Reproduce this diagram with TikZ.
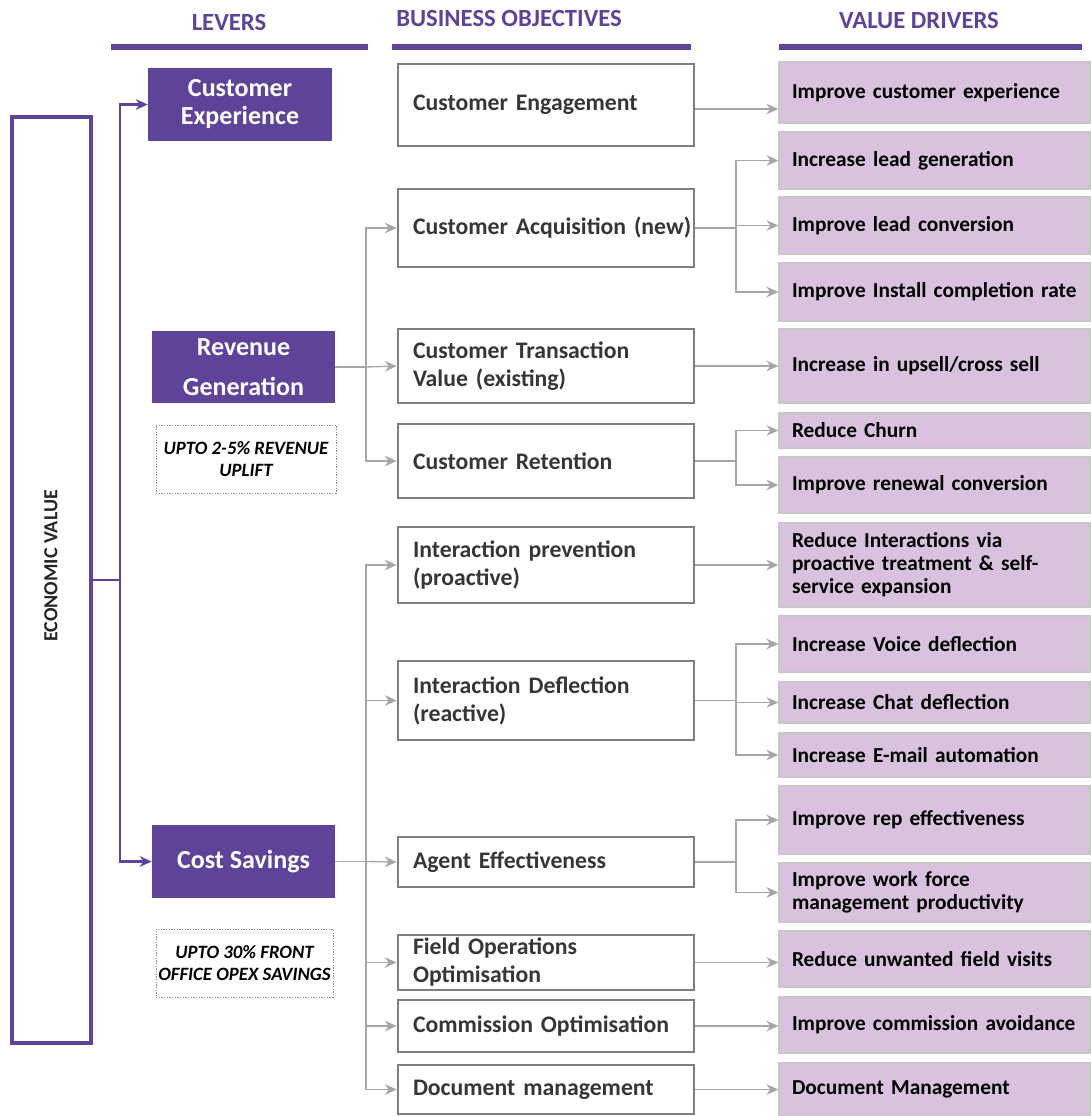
\documentclass[tikz,border=0pt]{standalone}
\usepackage{fontspec}
\setmainfont{Carlito}
\usetikzlibrary{arrows.meta}
\definecolor{purp}{HTML}{5E4399}
\definecolor{lilac}{HTML}{D9C2DE}
\definecolor{objgray}{HTML}{7F7F7F}
\definecolor{linegray}{HTML}{A6A6A6}
\definecolor{objtext}{HTML}{363636}
\tikzset{
 lever/.style={fill=purp, text=white, font=\fontsize{19.5}{21}\selectfont\bfseries, align=center, inner sep=0pt},
 objbox/.style={draw=objgray, line width=1.9pt, fill=white, text=objtext, font=\fontsize{17.8}{21}\selectfont\bfseries, align=left, inner ysep=0pt, inner xsep=11.25pt, text width=199.5pt},
 drvbox/.style={draw=black!22, line width=1pt, fill=lilac, text=black, font=\fontsize{16}{17.3}\selectfont\bfseries, align=left, inner ysep=0pt, inner xsep=9.75pt, text width=213.75pt},
 notebox/.style={draw=black!45, dash pattern=on 1pt off 1pt, line width=0.6pt, font=\fontsize{14.1}{16.5}\selectfont\bfseries\itshape, align=center, inner sep=0pt},
 hdr/.style={text=purp, font=\fontsize{18.5}{20}\selectfont\bfseries, inner sep=0pt},
 econbox/.style={draw=purp, line width=2.6pt, inner sep=0pt},
 econtext/.style={rotate=90, font=\fontsize{15}{16}\selectfont\bfseries, text=black!85, inner sep=0pt},
 ptrunk/.style={draw=purp, line width=1.6pt},
 parrow/.style={ptrunk, -{Stealth[length=9pt,width=8pt,inset=3pt]}},
 gline/.style={draw=linegray, line width=1pt},
 garrow/.style={gline, -{Stealth[length=9pt,width=8pt,inset=3pt]}},
}
\newcommand\boxat[7]{\node[#1, minimum width={(#5-#3)*0.75pt}, minimum height={(#6-#4)*0.75pt}] (#2) at ({(#3+#5)/2},{(#4+#6)/2}) {#7};}
\begin{document}
\begin{tikzpicture}[x=0.75pt,y=-0.75pt]
\useasboundingbox (0,0) rectangle (1090,1116);
% headers
\node[hdr] (hL) at (229,23) {LEVERS};
\node[hdr] (hB) at (509,19) {BUSINESS OBJECTIVES};
\node[hdr] (hV) at (919,21) {VALUE DRIVERS};
\fill[purp] (111,44) rectangle (368,50);
\fill[purp] (392,44) rectangle (691,50);
\fill[purp] (779,44) rectangle (1082,50);
% economic value
\boxat{econbox}{econ}{12}{117}{91}{1043}{}
\node[econtext] (econt) at (51,566) {ECONOMIC VALUE};
% levers
\boxat{lever}{cx}{148}{68}{332}{141}{Customer\\Experience}
\boxat{lever}{rg}{152}{331}{335}{403}{Revenue\\[9pt]Generation}
\boxat{lever}{cs}{152}{825}{335}{898}{Cost Savings}
\boxat{notebox}{n1}{156}{425}{336}{493}{UPTO 2-5\% REVENUE\\UPLIFT}
\boxat{notebox}{n2}{156}{929}{333}{997}{UPTO 30\% FRONT\\OFFICE OPEX SAVINGS}
% objectives
\boxat{objbox}{ce}{398}{64}{694}{146}{Customer Engagement}
\boxat{objbox}{ca}{398}{189}{694}{267}{\mbox{Customer Acquisition (new)}}
\boxat{objbox}{ct}{398}{329}{694}{403}{Customer Transaction\\Value (existing)}
\boxat{objbox}{cr}{398}{424}{694}{498}{Customer Retention}
\boxat{objbox}{ip}{398}{527}{694}{603}{Interaction prevention\\(proactive)}
\boxat{objbox}{id}{398}{661}{694}{740}{Interaction Deflection\\(reactive)}
\boxat{objbox}{ae}{398}{837}{694}{887}{Agent Effectiveness}
\boxat{objbox}{fo}{398}{935}{694}{990}{Field Operations\\Optimisation}
\boxat{objbox}{co}{398}{1000}{694}{1052}{Commission Optimisation}
\boxat{objbox}{dm}{398}{1065}{694}{1114}{Document management}
% value drivers
\boxat{drvbox}{d1}{779}{62}{1090}{123}{Improve customer experience}
\boxat{drvbox}{d2}{779}{132}{1090}{189}{Increase lead generation}
\boxat{drvbox}{d3}{779}{197}{1090}{254}{Improve lead conversion}
\boxat{drvbox}{d4}{779}{263}{1090}{321}{Improve Install completion rate}
\boxat{drvbox}{d5}{779}{329}{1090}{403}{Increase in upsell/cross sell}
\boxat{drvbox}{d6}{779}{413}{1090}{448}{Reduce Churn}
\boxat{drvbox}{d7}{779}{457}{1090}{513}{Improve renewal conversion}
\boxat{drvbox}{d8}{779}{523}{1090}{607}{Reduce Interactions via\\proactive treatment \& self-\\service expansion}
\boxat{drvbox}{d9}{779}{616}{1090}{672}{Increase Voice deflection}
\boxat{drvbox}{d10}{779}{682}{1090}{723}{Increase Chat deflection}
\boxat{drvbox}{d11}{779}{733}{1090}{777}{Increase E-mail automation}
\boxat{drvbox}{d12}{779}{786}{1090}{854}{Improve rep effectiveness}
\boxat{drvbox}{d13}{779}{863}{1090}{922}{Improve work force\\management productivity}
\boxat{drvbox}{d14}{779}{931}{1090}{987}{Reduce unwanted field visits}
\boxat{drvbox}{d15}{779}{997}{1090}{1053}{Improve commission avoidance}
\boxat{drvbox}{d16}{779}{1063}{1090}{1116}{Document Management}
% purple connectors
\coordinate (pk) at (120,580);
\draw[ptrunk] (econ.east) -- (pk);
\draw[parrow] (pk) |- (cx.west);
\draw[parrow] (pk) |- (cs.west);
% gray: revenue
\coordinate (rj) at (366,367);
\draw[gline] (rg.east) -- (rj);
\draw[garrow] (rj) |- (ca.west);
\draw[garrow] (rj) -- (ct.west);
\draw[garrow] (rj) |- (cr.west);
% gray: cost
\coordinate (cj) at (366,861.5);
\draw[gline] (cs.east) -- (cj);
\draw[garrow] (cj) |- (ip.west);
\draw[garrow] (cj) |- (id.west);
\draw[garrow] (cj) -- (ae.west);
\draw[garrow] (cj) |- (fo.west);
\draw[garrow] (cj) |- (co.west);
\draw[garrow] (cj) |- (dm.west);
% gray: to drivers
\draw[garrow] ([yshift=-3pt]ce.east) -- ([yshift=-3pt]ce.east -| d1.west);
\coordinate (aj) at (736,228);
\draw[gline] (ca.east) -- (aj);
\draw[garrow] (aj) |- (d2.west);
\draw[garrow] (aj) |- (d3.west);
\draw[garrow] (aj) |- (d4.west);
\draw[garrow] (ct.east) -- (ct.east -| d5.west);
\coordinate (rtj) at (736,461);
\draw[gline] (cr.east) -- (rtj);
\draw[garrow] (rtj) |- (d6.west);
\draw[garrow] (rtj) |- (d7.west);
\draw[garrow] (ip.east) -- (ip.east -| d8.west);
\coordinate (dj) at (736,700.5);
\draw[gline] (id.east) -- (dj);
\draw[garrow] (dj) |- (d9.west);
\draw[garrow] (dj) |- (d10.west);
\draw[garrow] (dj) |- (d11.west);
\coordinate (ej) at (736,862);
\draw[gline] (ae.east) -- (ej);
\draw[garrow] (ej) |- (d12.west);
\draw[garrow] (ej) |- (d13.west);
\draw[garrow] (fo.east) -- (fo.east -| d14.west);
\draw[garrow] (co.east) -- (co.east -| d15.west);
\draw[garrow] (dm.east) -- (dm.east -| d16.west);
\end{tikzpicture}
\end{document}
